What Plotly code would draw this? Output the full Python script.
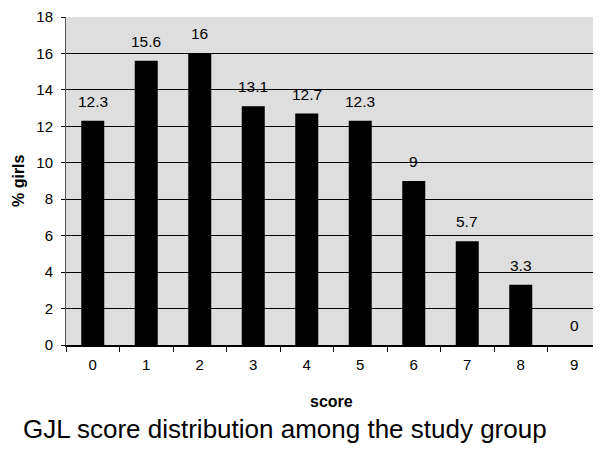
import plotly.graph_objects as go

scores = ["0", "1", "2", "3", "4", "5", "6", "7", "8", "9"]
pct_girls = [12.3, 15.6, 16, 13.1, 12.7, 12.3, 9, 5.7, 3.3, 0]
labels = ["12.3", "15.6", "16", "13.1", "12.7", "12.3", "9", "5.7", "3.3", "0"]
y_ticks = [0, 2, 4, 6, 8, 10, 12, 14, 16, 18]

FONT = "Liberation Sans, Arial, sans-serif"

fig = go.Figure()
fig.add_trace(go.Bar(
    x=scores, y=pct_girls,
    marker=dict(color="black", line=dict(width=0)),
    width=0.43,
))

for s, v, t in zip(scores, pct_girls, labels):
    fig.add_annotation(x=s, y=v, text=t, showarrow=False, yanchor="bottom",
                       yshift=9, font=dict(family=FONT, size=15.5, color="black"))

# axis titles
fig.add_annotation(xref="paper", yref="paper", x=-0.0897, y=0.5, xanchor="center",
                   yanchor="middle", showarrow=False, textangle=-90,
                   text="<b>% girls</b>", font=dict(family=FONT, size=16, color="black"))
fig.add_annotation(xref="paper", yref="paper", x=0.497, y=-0.171, xanchor="center",
                   yanchor="middle", showarrow=False,
                   text="<b>score</b>", font=dict(family=FONT, size=16, color="black"))
# caption
fig.add_annotation(xref="paper", yref="paper", x=0.409, y=-0.257, xanchor="center",
                   yanchor="middle", showarrow=False,
                   text="GJL score distribution among the study group",
                   font=dict(family=FONT, size=26, color="black"))

fig.update_layout(
    width=595, height=440,
    margin=dict(l=58, r=2, t=9, b=103, autoexpand=False),
    paper_bgcolor="white",
    plot_bgcolor="#dedede",
    showlegend=False,
    font=dict(family=FONT, color="black"),
)
fig.update_xaxes(
    type="category", tickson="boundaries", ticks="outside", ticklen=5,
    tickcolor="black", showline=True, linecolor="black", linewidth=1.5,
    showgrid=False, tickfont=dict(size=15), automargin=False,
    ticklabelstandoff=5,
)
fig.update_yaxes(
    range=[0, 18], tickvals=y_ticks, ticks="outside", ticklen=4, tickcolor="black",
    showline=True, linecolor="#555", linewidth=1, showgrid=True,
    gridcolor="black", gridwidth=1, zeroline=False, tickfont=dict(size=15),
    automargin=False, ticklabeloverflow="allow", ticklabelstandoff=5,
)

fig.write_html("out.html")
